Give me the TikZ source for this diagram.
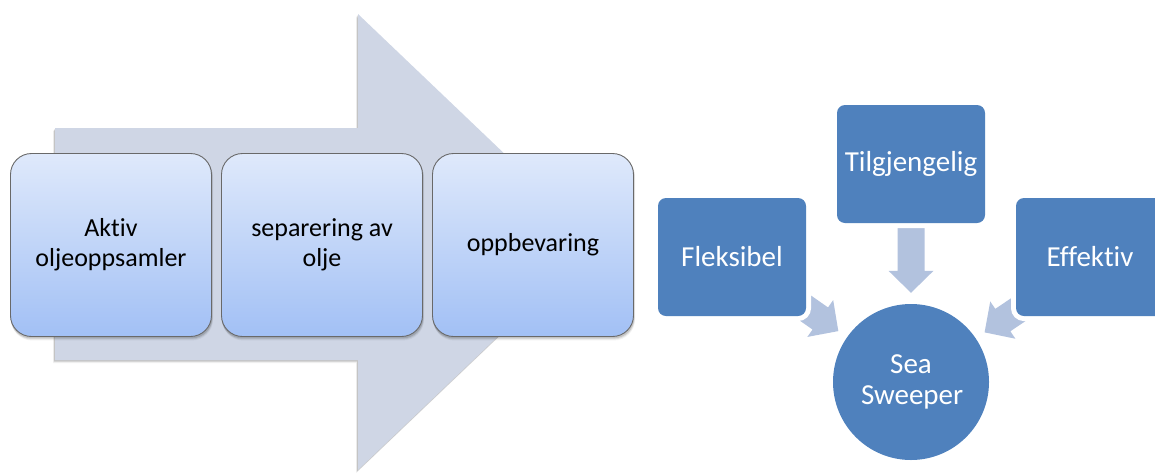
\documentclass[tikz,border=0pt]{standalone}
\usepackage{fontspec}
\setmainfont{Carlito}[Ligatures=NoCommon]
\usetikzlibrary{calc}

\definecolor{flowarrow}{RGB}{207,214,229}
\definecolor{stagetop}{RGB}{223,233,251}
\definecolor{stagebot}{RGB}{162,192,245}
\definecolor{stageedge}{RGB}{105,105,105}
\definecolor{hubblue}{RGB}{79,129,189}
\definecolor{feedblue}{RGB}{178,194,222}

\pgfdeclarelayer{back}
\pgfsetlayers{back,main}

% block arrow: #1 tip, #2 point it aims at, #3 length from tip to tail
\newcommand\blockarrow[3]{%
  \coordinate (ba-h) at ($(#1)!-22pt!(#2)$);
  \coordinate (ba-e) at ($(#1)!-#3!(#2)$);
  \fill[feedblue] (#1)
    -- ($(ba-h)!22.5pt!90:(#1)$) -- ($(ba-h)!13.5pt!90:(#1)$)
    -- ($(ba-e)!13.5pt!90:(#1)$) -- ($(ba-e)!13.5pt!-90:(#1)$)
    -- ($(ba-h)!13.5pt!-90:(#1)$) -- ($(ba-h)!22.5pt!-90:(#1)$) -- cycle;}

% soft shadow under a stage box
\newcommand\stageshadow[1]{%
  \foreach \s/\o in {3.5/0.05, 2.5/0.08, 1.5/0.12} {
    \fill[black, opacity=\o, rounded corners=21pt]
      ($(#1.north west)+(0.3*\s,\s)$) rectangle ($(#1.south east)+(0.3*\s,\s)$);
  }}

\tikzset{
  stage/.style={draw=stageedge, line width=0.9pt, rounded corners=21pt,
    top color=stagetop, bottom color=stagebot,
    minimum width=201pt, minimum height=183pt, align=center,
    font=\fontsize{26}{30}\selectfont, text=black},
  quality/.style={fill=hubblue, rounded corners=8pt,
    preaction={draw=white, line width=10pt},
    minimum width=148pt, minimum height=118pt, text=white,
    font=\fontsize{29}{31}\selectfont},
  hub/.style={circle, fill=hubblue, minimum size=156pt, inner sep=0pt,
    text=white, align=center, font=\fontsize{29}{31}\selectfont},
}

\begin{document}
\begin{tikzpicture}[x=1pt, y=-1pt]
  \useasboundingbox (0,0) rectangle (1155,472);

  % process arrow behind the three stages, with a soft shadow
  \begin{pgfonlayer}{back}
    \foreach \s/\o in {3/0.05, 2.2/0.08, 1.4/0.12} {
      \fill[black, opacity=\o]
        (55-0.6*\s,128+\s) -- (358-0.6*\s,128+\s) -- (358-0.6*\s,14+\s)
        -- (597-0.6*\s,242+\s) -- (358-0.6*\s,470+\s) -- (358-0.6*\s,360+\s)
        -- (55-0.6*\s,360+\s) -- cycle;
    }
    \fill[flowarrow] (55,128) -- (358,128) -- (358,14) -- (597,242)
      -- (358,470) -- (358,360) -- (55,360) -- cycle;
  \end{pgfonlayer}

  % process stages
  \node[stage] (s1) at (111,245) {Aktiv\\oljeoppsamler};
  \node[stage] (s2) at (322,245) {separering av\\olje};
  \node[stage] (s3) at (533,245) {oppbevaring};
  \begin{pgfonlayer}{back}
    \stageshadow{s1}
    \stageshadow{s2}
    \stageshadow{s3}
  \end{pgfonlayer}

  % converging qualities
  \node[hub] (sea) at (911,382) {\raisebox{-2pt}{\parbox{100pt}{\centering Sea\\Sweeper}}};
  \node[quality] (tilg) at (911,164) {Tilgjengelig};
  \node[quality] (fleks) at (732,257) {Fleksibel};
  \begin{scope}
    \clip (0,0) rectangle (1155,472);
    \node[quality] (eff) at (1090,257) {Effektiv};
  \end{scope}

  \begin{pgfonlayer}{back}
    \coordinate (tipT) at ($(sea.north)+(0,-11)$);
    \coordinate (tipF) at ($(sea.center)!1.135!(sea.145.6)$);
    \coordinate (tipE) at ($(sea.center)!1.135!(sea.34.4)$);
    \blockarrow{tipT}{sea.center}{72pt}
    \blockarrow{tipF}{sea.center}{50pt}
    \blockarrow{tipE}{sea.center}{50pt}
  \end{pgfonlayer}
\end{tikzpicture}
\end{document}
